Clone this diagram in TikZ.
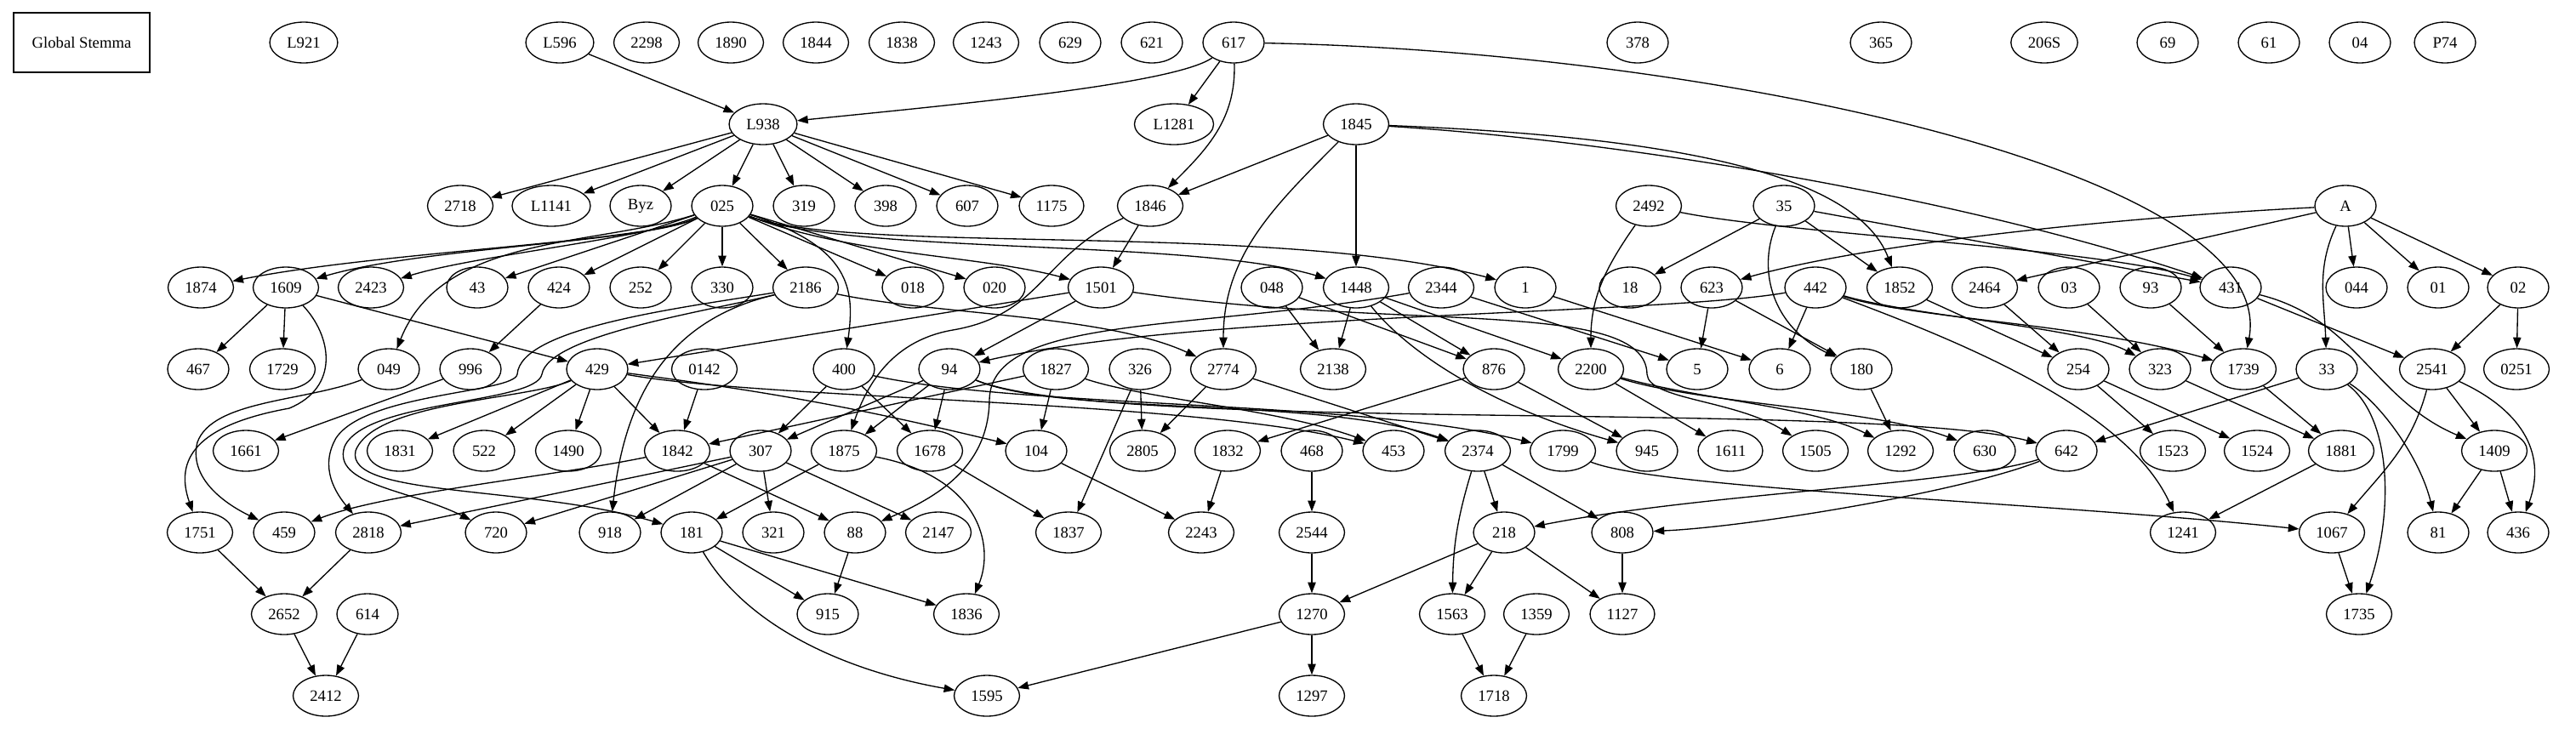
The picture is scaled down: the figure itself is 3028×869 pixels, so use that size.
\documentclass[tikz,border=0pt]{standalone}
\usepackage{fontspec}
\setmainfont{Liberation Serif}
\usetikzlibrary{arrows.meta,shapes.geometric,positioning}
\tikzstyle{every node}+=[font=\fontsize{14}{17}\selectfont]
\tikzstyle{every path}+=[line width=1pt]
\tikzstyle{descent}=[-{Triangle[length=9.5pt,width=7pt]}]
\newcommand{\drawedges}[2][]{
	\foreach \a/\b in {#2}{
		\draw[descent,#1] (w\a) edge (w\b);
	}
}

\begin{document}
\begin{tikzpicture}[x=0.75pt,y=-0.75pt]
\useasboundingbox (0,0) rectangle (3028,869);

\node[draw,minimum width=120pt,minimum height=52.5pt] (wtitle) at (96,50) {Global Stemma};

\tikzstyle{every node}+=[ellipse,draw,minimum width=54pt,minimum height=36pt,inner xsep=6.4pt,inner ysep=2pt]

% witnesses, one row per rank
\foreach \lab/\px in {L921/357,L596/658,2298/760,1890/859,1844/959,1838/1060,1243/1159,629/1258,621/1354,617/1450,378/1925,365/2211,206S/2403,69/2548,61/2667,04/2774,P74/2874}
	\node (w\lab) at (\px,50) {\lab};
\foreach \lab/\px in {L938/897,L1281/1380,1845/1594}
	\node (w\lab) at (\px,146) {\lab};
\foreach \lab/\px in {2718/541,L1141/648,Byz/753,025/849,319/945,398/1041,607/1137,1175/1236,1846/1352,2492/1938,35/2097,A/2757}
	\node (w\lab) at (\px,242) {\lab};
\foreach \lab/\px in {1874/236,1609/336,2423/436,43/561,424/657,252/753,330/849,2186/947,018/1073,020/1169,1501/1294,048/1495,1448/1594,2344/1694,1/1793,18/1916,623/2012,442/2134,1852/2233,2464/2333,03/2432,93/2528,431/2622,044/2770,01/2866,02/2960}
	\node (w\lab) at (\px,338) {\lab};
\foreach \lab/\px in {467/233,1729/332,049/457,996/553,429/702,0142/828,400/992,94/1116,1827/1241,326/1340,2774/1438,2138/1567,876/1756,2200/1870,5/1995,6/2092,180/2188,254/2443,323/2539,1739/2637,33/2735,2541/2859,0251/2958}
	\node (w\lab) at (\px,434) {\lab};
\foreach \lab/\px in {1661/289,1831/470,522/569,1490/668,1842/796,307/894,1875/992,1678/1093,104/1218,2805/1343,1832/1443,468/1542,453/1638,2374/1737,1799/1837,945/1936,1611/2034,1505/2134,1292/2234,630/2333,642/2429,1523/2554,1524/2653,1881/2752,1409/2932}
	\node (w\lab) at (\px,530) {\lab};
\foreach \lab/\px in {1751/235,459/334,2818/433,720/583,918/717,181/813,321/909,88/1005,2147/1103,1837/1256,2243/1412,2544/1542,218/1768,808/1907,1241/2566,1067/2741,81/2866,436/2960}
	\node (w\lab) at (\px,626) {\lab};
\foreach \lab/\px in {2652/334,614/432,915/973,1836/1136,1270/1542,1563/1707,1359/1806,1127/1907,1735/2773}
	\node (w\lab) at (\px,722) {\lab};
\foreach \lab/\px in {2412/383,1595/1160,1297/1542,1718/1756}
	\node (w\lab) at (\px,818) {\lab};

% straight descents
\drawedges{L596/L938,617/L1281,L938/2718,L938/L1141,L938/Byz,L938/025,L938/319,L938/398,L938/607,L938/1175,
	1845/1846,1845/1448,025/43,025/424,025/252,025/330,025/2186,025/018,025/020,
	1846/1501,35/18,35/1852,35/431,A/2464,A/044,A/01,A/02,
	1609/467,1609/1729,1609/429,424/996,1501/94,1501/429,048/2138,048/876,
	1448/2138,1448/876,1448/2200,2344/5,1/6,623/5,623/180,442/6,
	1852/254,2464/254,03/323,93/1739,431/2541,02/2541,02/0251,996/1661}
\drawedges{429/1831,429/522,429/1490,429/1842,0142/1842,400/307,400/1678,
	94/307,94/1875,94/1678,1827/1842,1827/104,326/2805,326/1837,2774/2805,2774/2374,
	876/1832,876/945,2200/1611,180/1292,254/1523,254/1524,323/1881,1739/1881,
	33/642,2541/1409,1842/88,307/2818,307/720,307/918,307/321,307/2147,1875/181,
	1678/1837,104/2243,1832/2243,468/2544,2374/218,2374/808,1881/1241,1409/81,1409/436}
\drawedges{1751/2652,2818/2652,181/915,181/1836,88/915,2544/1270,218/1270,218/1563,218/1127,808/1127,
	1067/1735,2652/2412,614/2412,1270/1595,1270/1297,1563/1718,1359/1718}
\drawedges[bend left=3]{429/104}
\drawedges[bend right=8]{2374/1563}

% curved descents
\draw[descent] (w617) .. controls (1380,100) and (1100,125) .. (wL938);
\draw[descent] (w617) to[out=-88,in=45] (w1846);
\draw[descent] (w617) .. controls (2000,60) and (2680,200) .. (w1739);
\draw[descent] (w1845) to[out=-135,in=90] (w2774);
\draw[descent] (w1845) .. controls (1950,160) and (2180,200) .. (w1852);
\draw[descent] (w1845) .. controls (1900,165) and (2300,230) .. (w431);
\draw[descent] (w2492) .. controls (2100,275) and (2450,290) .. (w431);
\draw[descent] (wA) .. controls (2500,255) and (2200,285) .. (w623);
\draw[descent] (w025) .. controls (760,285) and (450,295) .. (w1874);
\draw[descent] (w025) .. controls (760,285) and (500,290) .. (w1609);
\draw[descent] (w025) .. controls (760,280) and (560,300) .. (w2423);
\draw[descent] (w025) .. controls (700,290) and (520,275) .. (w049);
\draw[descent] (w025) .. controls (1000,290) and (1005,340) .. (w400);
\draw[descent] (w025) .. controls (1000,300) and (1150,300) .. (w1501);
\draw[descent] (w025) .. controls (1000,300) and (1400,280) .. (w1448);
\draw[descent] (w025) .. controls (1000,300) and (1500,260) .. (w1);
\draw[descent] (w1609) .. controls (390,395) and (400,455) .. (340,480) .. controls (230,500) and (205,540) .. (w1751);
\draw[descent] (w049) .. controls (360,472) and (250,470) .. (232,520) .. controls (222,560) and (260,590) .. (w459);
\draw[descent] (w2186) .. controls (800,362) and (612,385) .. (608,440) .. controls (605,462) and (430,462) .. (395,515) .. controls (375,550) and (395,580) .. (w2818);
\draw[descent] (w2186) .. controls (820,368) and (645,395) .. (637,440) .. controls (630,475) and (430,470) .. (405,525) .. controls (390,570) and (480,575) .. (w720);
\draw[descent] (w429) .. controls (620,470) and (440,472) .. (418,530) .. controls (405,585) and (620,570) .. (w181);
\draw[descent] (w2186) .. controls (790,375) and (735,460) .. (w918);
\draw[descent] (w2186) .. controls (1100,370) and (1300,370) .. (w2774);
\draw[descent] (w1846) .. controls (1225,300) and (1225,370) .. (1120,388) .. controls (1050,400) and (1020,450) .. (w1875);
\draw[descent] (w1501) .. controls (1650,390) and (1935,350) .. (1936,440) .. controls (1938,470) and (2040,470) .. (w1505);
\draw[descent] (w442) .. controls (1950,370) and (1400,368) .. (w94);
\draw[descent] (w442) .. controls (2300,400) and (2500,480) .. (w1241);
\draw[descent] (w442) .. controls (2250,372) and (2450,385) .. (w323);
\draw[descent] (w442) .. controls (2250,375) and (2450,380) .. (w1739);
\draw[descent] (w2344) .. controls (1400,390) and (1165,370) .. (1163,470) .. controls (1162,550) and (1100,585) .. (w88);
\draw[descent] (w2492) to[out=-125,in=90] (w2200);
\draw[descent] (w35) .. controls (2065,320) and (2085,385) .. (w180);
\draw[descent] (w1448) .. controls (1660,420) and (1760,480) .. (w945);
\draw[descent] (w429) .. controls (900,470) and (1400,470) .. (w453);
\draw[descent] (w1827) .. controls (1350,470) and (1500,480) .. (w453);
\draw[descent] (w400) .. controls (1200,480) and (1600,470) .. (w1799);
\draw[descent] (w94) .. controls (1250,490) and (1550,465) .. (w2374);
\draw[descent] (w94) .. controls (1300,510) and (2200,470) .. (w642);
\draw[descent] (w2200) .. controls (2000,470) and (2130,478) .. (w1292);
\draw[descent] (w2200) .. controls (2000,475) and (2200,480) .. (w630);
\draw[descent] (w642) .. controls (2300,570) and (2000,580) .. (w218);
\draw[descent] (w642) .. controls (2300,580) and (2050,620) .. (w808);
\draw[descent] (w1799) .. controls (1950,575) and (2400,590) .. (w1067);
\draw[descent] (w1842) .. controls (650,560) and (450,580) .. (w459);
\draw[descent] (w1875) .. controls (1150,560) and (1170,640) .. (w1836);
\draw[descent] (w181) .. controls (880,740) and (1000,790) .. (w1595);
\draw[descent] (wA) to[out=-115,in=92] (w33);
\draw[descent] (w2541) to[out=-105,in=50] (w1067);
\draw[descent] (w33) .. controls (2810,490) and (2815,600) .. (w1735);
\draw[descent] (w33) .. controls (2800,475) and (2845,540) .. (w81);
\draw[descent] (w431) .. controls (2770,375) and (2790,470) .. (w1409);
\draw[descent] (w2541) .. controls (2960,480) and (2995,530) .. (w436);

\end{tikzpicture}
\end{document}
